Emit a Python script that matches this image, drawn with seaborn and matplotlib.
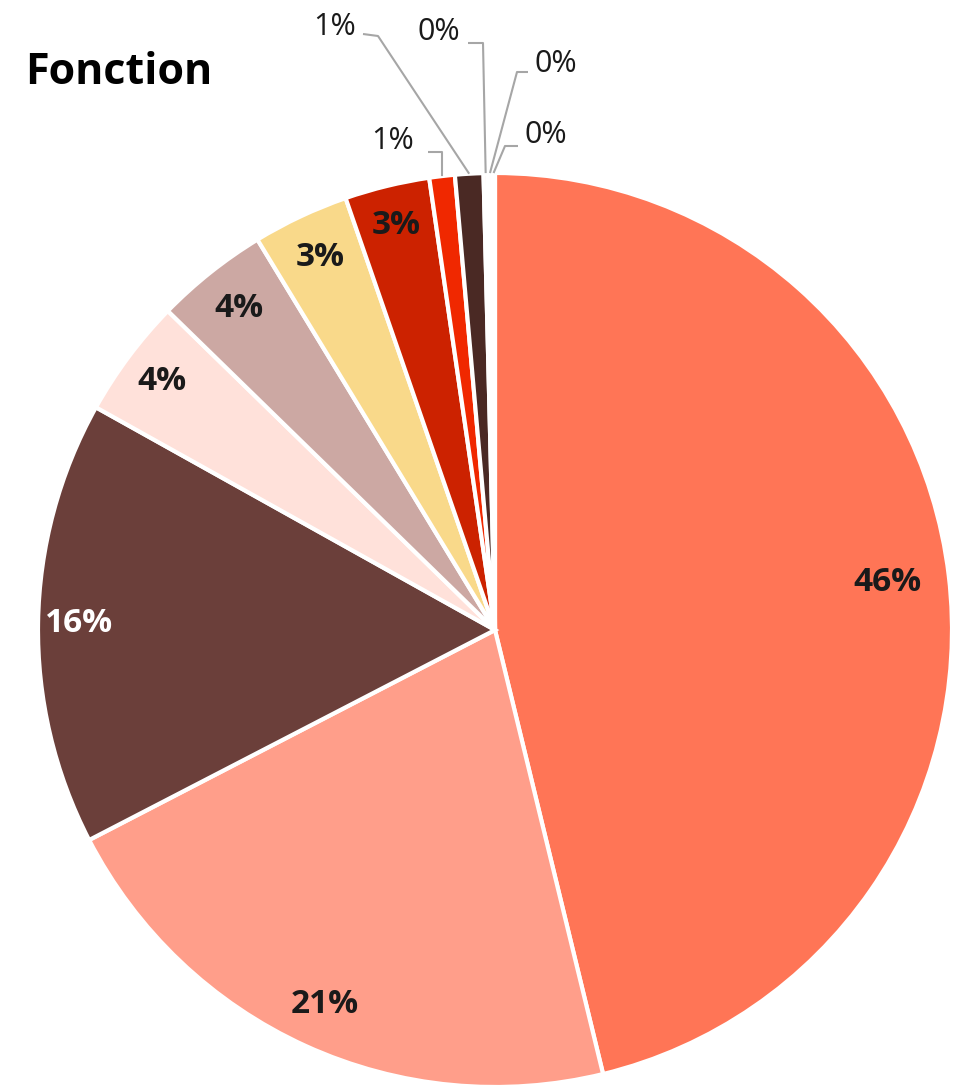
import numpy as np
import matplotlib
matplotlib.use("Agg")
import matplotlib.pyplot as plt
import seaborn as sns

sns.set_theme(style="white")
plt.rcParams['font.family'] = ['Open Sans', 'DejaVu Sans']

categories = ["A", "B", "C", "D", "E", "F", "G", "H", "I", "J", "K", "L"]
values = [46.2, 21.2, 15.7, 4.2, 4.0, 3.4, 3.0, 0.9, 1.0, 0.15, 0.15, 0.1]
pct_labels = ["46%", "21%", "16%", "4%", "4%", "3%", "3%", "1%", "1%", "0%", "0%", "0%"]
colors = ["#FF7556", "#FF9E8A", "#6B3F3A", "#FFE1DA", "#CCA8A3", "#F9D98A",
          "#CC2200", "#F02800", "#4A2924", "#FFD0C4", "#FFF2EE", "#F6C8BA"]
title = "Fonction"

W, H = 957, 1089
fig = plt.figure(figsize=(W / 100, H / 100), dpi=100)
cx, cy, R = 495, 630, 457
ax = fig.add_axes([(cx - R) / W, (H - cy - R) / H, 2 * R / W, 2 * R / H])

wedges, _ = ax.pie(values, colors=colors, startangle=90, counterclock=False,
                   radius=1.0, wedgeprops=dict(edgecolor="white", linewidth=3))
ax.set_xlim(-1, 1)
ax.set_ylim(-1, 1)
ax.axis("off")

def px(x, y):
    return ((x - cx) / R, (cy - y) / R)

inside_pos = {0: 0.865, 1: 0.90, 2: 0.91, 3: 0.91, 4: 0.90, 5: 0.90, 6: 0.91}
for i, w in enumerate(wedges):
    if i in inside_pos:
        ang = np.deg2rad((w.theta1 + w.theta2) / 2)
        r = inside_pos[i]
        color = "white" if i == 2 else "#1a1a1a"
        ax.text(r * np.cos(ang), r * np.sin(ang), pct_labels[i], ha="center", va="center",
                fontsize=24, fontweight="bold", color=color)

# outside labels with leader lines (label pixel positions, elbow pixels)
outside = {
    7: ((393, 141), [(428, 152), (442, 152)]),
    8: ((335, 27), [(363, 34), (378, 36)]),
    9: ((439, 32), [(468, 43), (483, 43)]),
    10: ((556, 64), [(528, 72), (517, 72)]),
    11: ((546, 135), [(518, 146), (505, 146)]),
}
for i, (lab, pts) in outside.items():
    w = wedges[i]
    ang = np.deg2rad((w.theta1 + w.theta2) / 2)
    end = (np.cos(ang) * 1.0, np.sin(ang) * 1.0)
    xs = [px(*p)[0] for p in pts] + [end[0]]
    ys = [px(*p)[1] for p in pts] + [end[1]]
    ax.plot(xs, ys, color="#A6A6A6", linewidth=1.5, clip_on=False, solid_capstyle="butt")
    lx, ly = px(*lab)
    ax.text(lx, ly, pct_labels[i], ha="center", va="center", fontsize=22,
            color="#1a1a1a", clip_on=False)

fig.text(25 / W, 1 - 72 / H, title, ha="left", va="center", fontsize=31,
         fontweight="bold", color="black")

fig.savefig("out.png", dpi=100, facecolor="white")
